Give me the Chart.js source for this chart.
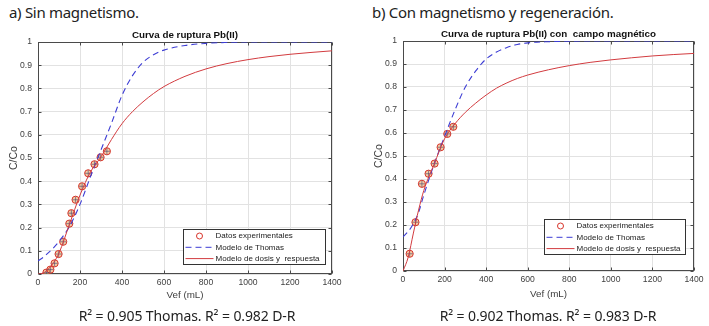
<!DOCTYPE html>
<html>
<head>
<meta charset="utf-8">
<script src="https://cdn.jsdelivr.net/npm/chart.js@4.4.1/dist/chart.umd.min.js"></script>
<style>
  body { margin: 0; background: #fff; width: 709px; height: 326px; position: relative; overflow: hidden; font-family: "Noto Sans", sans-serif; }
  .head { position: absolute; top: 2px; font-size: 15px; letter-spacing: -0.3px; color: #222; white-space: nowrap; }
  .cap { position: absolute; top: 306px; font-size: 14px; letter-spacing: -0.1px; color: #222; white-space: nowrap; text-align: center; width: 330px; }
  .box { position: absolute; top: 26px; }
</style>
</head>
<body>
<div class="head" style="left:9px">a) Sin magnetismo.</div>
<div class="head" style="left:372px">b) Con magnetismo y regeneración.</div>
<div class="box" style="left:0;width:345px;height:284px"><canvas id="chartA" width="345" height="284"></canvas></div>
<div class="box" style="left:360px;width:349px;height:284px"><canvas id="chartB" width="349" height="284"></canvas></div>
<div class="cap" style="left:22px">R² = 0.905 Thomas. R² = 0.982 D-R</div>
<div class="cap" style="left:383px">R² = 0.902 Thomas. R² = 0.983 D-R</div>

<script>
// axis ticks
const xTicks = [0, 200, 400, 600, 800, 1000, 1200, 1400];
const yTicks = [0, 0.1, 0.2, 0.3, 0.4, 0.5, 0.6, 0.7, 0.8, 0.9, 1];

// volume grid for the model curves (mL)
const vModel = [0, 25, 50, 75, 100, 150, 200, 250, 300, 350, 400, 450, 500, 550, 600, 700, 800, 900, 1000, 1100, 1200, 1300, 1400];

// a) sin magnetismo
const vExpA = [40, 59, 79, 98, 120, 149, 159, 179, 210, 239, 269, 298, 328];
const yExpA = [0.006, 0.019, 0.046, 0.086, 0.139, 0.217, 0.262, 0.32, 0.378, 0.434, 0.473, 0.503, 0.529];
const thomasA = [0.057, 0.072, 0.092, 0.114, 0.14, 0.205, 0.30, 0.42, 0.535, 0.65, 0.77, 0.855, 0.912, 0.945, 0.965, 0.985, 0.994, 0.998, 1, 1, 1, 1, 1];
const doseA = [0, 0.004, 0.022, 0.05, 0.09, 0.215, 0.34, 0.44, 0.505, 0.58, 0.648, 0.70, 0.742, 0.778, 0.808, 0.852, 0.884, 0.907, 0.924, 0.937, 0.947, 0.955, 0.962];

// b) con magnetismo y regeneracion
const vExpB = [32, 60, 91, 123, 152, 181, 213, 242];
const yExpB = [0.075, 0.212, 0.379, 0.423, 0.467, 0.538, 0.596, 0.627];
const thomasB = [0.148, 0.172, 0.205, 0.255, 0.33, 0.465, 0.585, 0.70, 0.80, 0.87, 0.922, 0.952, 0.972, 0.985, 0.992, 0.997, 0.999, 1, 1, 1, 1, 1, 1];
const doseB = [0, 0.06, 0.165, 0.265, 0.35, 0.465, 0.575, 0.64, 0.69, 0.73, 0.765, 0.795, 0.818, 0.837, 0.852, 0.875, 0.893, 0.907, 0.918, 0.927, 0.935, 0.941, 0.946];

const legendLabels = ['Datos experimentales', 'Modelo de Thomas', 'Modelo de dosis y  respuesta'];

Chart.defaults.font.family = '"Liberation Sans", Arial, sans-serif';
Chart.defaults.font.size = 8.6;
Chart.defaults.color = '#404040';

function pairs(xs, ys) {
  return xs.map((x, i) => ({ x: x, y: ys[i] }));
}

// box + inward tick marks, matlab style
const frame = {
  id: 'frame',
  beforeDatasetsDraw(chart) {
    const { ctx, chartArea: a, scales } = chart;
    const l = Math.round(a.left) + 0.5, r = Math.round(a.right) - 0.5;
    const t = Math.round(a.top) + 0.5, b = Math.round(a.bottom) - 0.5;
    ctx.save();
    ctx.strokeStyle = '#4a4a4a';
    ctx.lineWidth = 1;
    ctx.strokeRect(l, t, r - l, b - t);
    ctx.beginPath();
    xTicks.forEach(v => {
      const p = Math.round(scales.x.getPixelForValue(v)) + 0.5;
      ctx.moveTo(p, b); ctx.lineTo(p, b - 3);
      ctx.moveTo(p, t); ctx.lineTo(p, t + 3);
    });
    yTicks.forEach(v => {
      const p = Math.round(scales.y.getPixelForValue(v)) + 0.5;
      ctx.moveTo(l, p); ctx.lineTo(l + 3, p);
      ctx.moveTo(r, p); ctx.lineTo(r - 3, p);
    });
    ctx.stroke();
    ctx.restore();
  },
  afterDraw(chart, args, opts) {
    const { ctx, chartArea: a } = chart;
    ctx.save();
    // chart title
    ctx.font = 'bold 9.8px "Liberation Sans", Arial, sans-serif';
    ctx.fillStyle = '#111';
    ctx.textAlign = 'center';
    ctx.textBaseline = 'alphabetic';
    ctx.fillText(opts.title, (a.left + a.right) / 2, a.top - 4);

    // legend box inside the plot
    const w = opts.legW, h = opts.legH;
    const bx = Math.round(a.right - opts.legRight - w) + 0.5;
    const by = Math.round(a.bottom - opts.legBottom - h) + 0.5;
    ctx.fillStyle = '#fff';
    ctx.fillRect(bx, by, w, h);
    ctx.strokeStyle = '#333';
    ctx.lineWidth = 1;
    ctx.strokeRect(bx, by, w, h);

    const ds = chart.data.datasets;
    ctx.font = '8px "Liberation Sans", Arial, sans-serif';
    ctx.textAlign = 'left';
    ctx.textBaseline = 'middle';
    legendLabels.forEach((lab, i) => {
      const cy = by + 6.5 + i * 11.3;
      const d = ds.find(s => s.label === lab);
      if (i === 0) {
        ctx.beginPath();
        ctx.arc(bx + 16, cy, 3, 0, Math.PI * 2);
        ctx.strokeStyle = d.borderColor;
        ctx.stroke();
      } else {
        ctx.beginPath();
        ctx.setLineDash(d.borderDash || []);
        ctx.strokeStyle = d.borderColor;
        ctx.moveTo(bx + 2, cy);
        ctx.lineTo(bx + 30, cy);
        ctx.stroke();
        ctx.setLineDash([]);
      }
      ctx.fillStyle = '#222';
      ctx.fillText(lab, bx + 32, cy);
    });
    ctx.restore();
  }
};

function makeChart(id, vExp, yExp, thomas, dose, cfg) {
  return new Chart(document.getElementById(id), {
    type: 'line',
    data: {
      datasets: [
        {
          label: legendLabels[2],
          data: pairs(vModel, dose),
          borderColor: '#d23b3f',
          borderWidth: 1,
          pointRadius: 0,
          cubicInterpolationMode: 'monotone',
          order: 1
        },
        {
          label: legendLabels[1],
          data: pairs(vModel, thomas),
          borderColor: '#3d3dd4',
          borderWidth: 1.1,
          borderDash: [6, 4],
          pointRadius: 0,
          cubicInterpolationMode: 'monotone',
          order: 2
        },
        {
          label: '',
          data: pairs(vExp, yExp),
          showLine: false,
          pointStyle: 'cross',
          pointRadius: 3.2,
          pointBorderWidth: 1,
          borderColor: 'rgba(70,70,110,0.6)',
          order: 3
        },
        {
          label: legendLabels[0],
          data: pairs(vExp, yExp),
          showLine: false,
          pointStyle: 'circle',
          pointRadius: 3.6,
          pointBorderWidth: 1,
          borderColor: '#d8352b',
          backgroundColor: 'rgba(236,160,90,0.55)',
          order: 4
        }
      ]
    },
    options: {
      responsive: false,
      animation: false,
      events: [],
      layout: { padding: { left: 0, top: cfg.top, right: cfg.right, bottom: 0 } },
      plugins: {
        legend: { display: false },
        tooltip: { enabled: false },
        frame: cfg.frame
      },
      scales: {
        x: {
          type: 'linear',
          min: 0,
          max: 1400,
          afterBuildTicks: s => { s.ticks = xTicks.map(v => ({ value: v })); },
          afterFit: s => { s.height = cfg.xh; },
          ticks: { padding: 3, maxRotation: 0, callback: v => String(v) },
          grid: { color: '#e2e2e2', drawTicks: false },
          border: { display: false },
          title: { display: true, text: 'Vef (mL)', font: { size: 9.8 }, padding: { top: 0, bottom: cfg.xTitlePad } }
        },
        y: {
          min: 0,
          max: 1,
          afterBuildTicks: s => { s.ticks = yTicks.map(v => ({ value: v })); },
          afterFit: s => { s.width = cfg.yw; },
          ticks: { padding: 6, callback: v => String(v) },
          grid: { color: '#e2e2e2', drawTicks: false },
          border: { display: false },
          title: { display: true, text: 'C/Co', font: { size: 10.5 }, padding: { top: cfg.yTitlePad, bottom: 0 } }
        }
      }
    },
    plugins: [frame]
  });
}

makeChart('chartA', vExpA, yExpA, thomasA, doseA, {
  top: 16, right: 13, xh: 36, yw: 38, xTitlePad: 8.5, yTitlePad: 8,
  frame: { title: 'Curva de ruptura Pb(II)', legW: 142, legH: 35, legRight: 7, legBottom: 10 }
});

makeChart('chartB', vExpB, yExpB, thomasB, doseB, {
  top: 15, right: 15, xh: 39, yw: 43, xTitlePad: 10, yTitlePad: 12.5,
  frame: { title: 'Curva de ruptura Pb(II) con  campo magnético', legW: 141, legH: 35, legRight: 9, legBottom: 17 }
});
</script>
</body>
</html>
